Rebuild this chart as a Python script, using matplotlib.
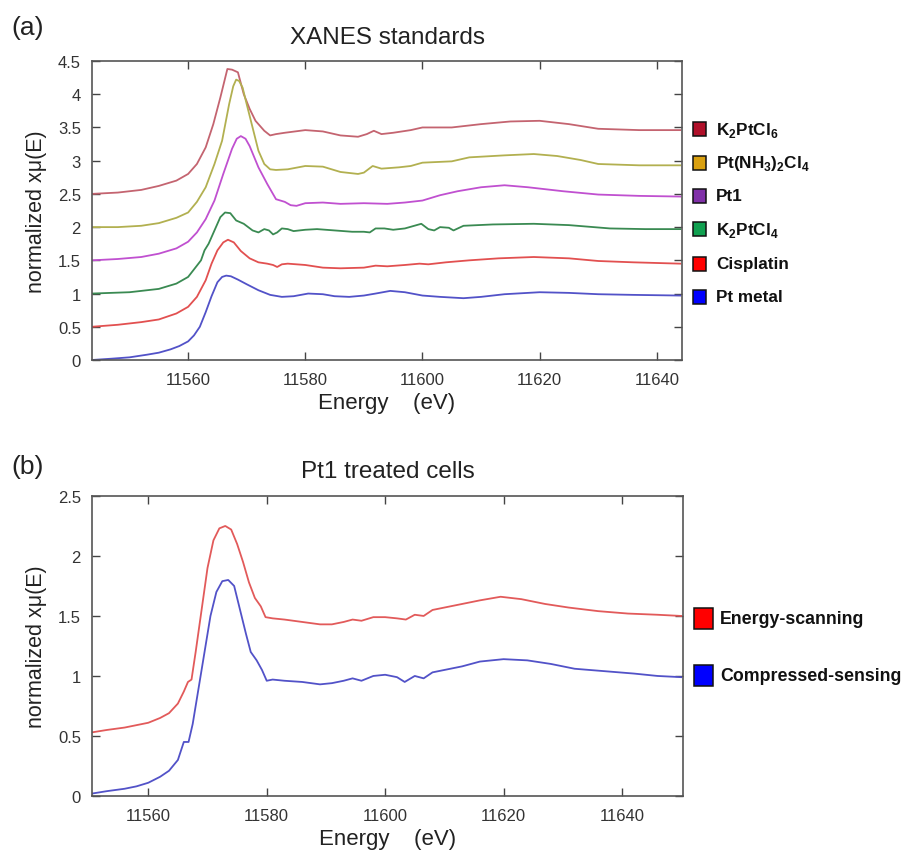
import matplotlib
matplotlib.use('Agg')
import matplotlib.pyplot as plt
from matplotlib.patches import Rectangle
from matplotlib.transforms import blended_transform_factory

plt.rcParams['font.family'] = ['Liberation Sans', 'DejaVu Sans']
plt.rcParams['mathtext.fontset'] = 'custom'
plt.rcParams['mathtext.bf'] = 'Liberation Sans:bold'
plt.rcParams['mathtext.rm'] = 'Liberation Sans'

# ---- panel (a): XANES standards ----
e_ptmetal = [11543.6, 11547, 11550, 11553, 11555, 11557, 11558.5, 11560, 11561, 11562, 11563, 11564, 11565,
             11565.8, 11566.5, 11567.3, 11568.5, 11570, 11572, 11574, 11576, 11578, 11580.5, 11583, 11585,
             11587.5, 11590, 11592, 11594.5, 11597, 11600, 11603, 11607, 11610, 11614, 11620, 11625, 11630,
             11636, 11644]
v_ptmetal = [0.0, 0.02, 0.04, 0.08, 0.11, 0.16, 0.21, 0.28, 0.37, 0.5, 0.72, 0.96, 1.17, 1.25, 1.27, 1.26,
             1.21, 1.14, 1.05, 0.98, 0.95, 0.96, 1.0, 0.99, 0.96, 0.95, 0.97, 1.0, 1.04, 1.02, 0.97, 0.95,
             0.93, 0.95, 0.99, 1.02, 1.01, 0.99, 0.98, 0.97]

e_cispt = [11543.6, 11548, 11552, 11555, 11558, 11560, 11561.5, 11563, 11564, 11565, 11566, 11566.8, 11567.8,
           11569, 11570.5, 11572, 11573.5, 11574.5, 11575.2, 11576, 11577, 11580, 11583, 11586, 11590, 11592,
           11594, 11597, 11599.5, 11601, 11604, 11608, 11613, 11619, 11625, 11630, 11636, 11644]
v_cispt = [0.5, 0.53, 0.57, 0.61, 0.7, 0.8, 0.95, 1.2, 1.45, 1.65, 1.77, 1.81, 1.77, 1.64, 1.53, 1.47, 1.45,
           1.43, 1.40, 1.44, 1.45, 1.43, 1.39, 1.38, 1.39, 1.42, 1.41, 1.43, 1.45, 1.44, 1.47, 1.5, 1.53, 1.55,
           1.53, 1.49, 1.47, 1.45]

e_k2ptcl4 = [11543.6, 11550, 11555, 11558, 11560, 11561.5, 11562.2, 11562.8, 11563.5, 11564.5, 11565.5, 11566.3,
             11567.2, 11568.2, 11569.5, 11571, 11572, 11573, 11573.8, 11574.5, 11575.2, 11576, 11577, 11578,
             11580, 11582, 11585, 11588, 11590, 11591, 11592, 11593.5, 11595, 11597, 11599, 11599.8, 11601,
             11602, 11603, 11604.5, 11605.3, 11607, 11612, 11619, 11625, 11632, 11638, 11644]
v_k2ptcl4 = [1.0, 1.02, 1.07, 1.15, 1.25, 1.42, 1.5, 1.65, 1.75, 1.95, 2.15, 2.22, 2.21, 2.1, 2.05, 1.95, 1.92,
             1.97, 1.95, 1.89, 1.92, 1.98, 1.97, 1.94, 1.96, 1.97, 1.95, 1.93, 1.93, 1.92, 1.98, 1.98, 1.96,
             1.98, 2.03, 2.05, 1.97, 1.95, 2.0, 1.99, 1.95, 2.02, 2.04, 2.05, 2.03, 1.98, 1.97, 1.97]

e_pt1 = [11543.6, 11548, 11552, 11555, 11558, 11560, 11561.5, 11563, 11564.5, 11566, 11567.5, 11568.3, 11569,
         11569.8, 11570.5, 11572, 11573.5, 11575, 11576.5, 11577.5, 11578.5, 11580, 11583, 11586, 11590, 11594,
         11597, 11600, 11603, 11606, 11610, 11614, 11618, 11624, 11630, 11637, 11644]
v_pt1 = [1.5, 1.52, 1.55, 1.6, 1.68, 1.78, 1.92, 2.12, 2.4, 2.8, 3.18, 3.33, 3.37, 3.33, 3.22, 2.9, 2.65, 2.42,
         2.38, 2.33, 2.32, 2.36, 2.37, 2.35, 2.36, 2.35, 2.37, 2.4, 2.48, 2.54, 2.6, 2.63, 2.6, 2.54, 2.49, 2.47,
         2.46]

e_ptnh3 = [11543.6, 11548, 11552, 11555, 11558, 11560, 11561.5, 11563, 11564.5, 11565.8, 11567, 11567.7, 11568.2,
           11568.7, 11569.3, 11570, 11571, 11572, 11573, 11574, 11575, 11577, 11580, 11583, 11586, 11589, 11590,
           11591.5, 11593, 11596, 11598, 11600, 11605, 11608, 11614, 11619, 11623, 11627, 11630, 11637, 11644]
v_ptnh3 = [2.0, 2.0, 2.02, 2.06, 2.14, 2.22, 2.38, 2.6, 2.95, 3.3, 3.85, 4.12, 4.22, 4.2, 4.1, 3.85, 3.5, 3.15,
           2.95, 2.87, 2.86, 2.87, 2.92, 2.91, 2.83, 2.8, 2.82, 2.92, 2.88, 2.9, 2.92, 2.97, 2.99, 3.05, 3.08,
           3.1, 3.07, 3.01, 2.95, 2.93, 2.93]

e_k2ptcl6 = [11543.6, 11548, 11552, 11555, 11558, 11560, 11561.5, 11563, 11564.3, 11565.5, 11566.7, 11567.5,
             11568.5, 11569.5, 11570.5, 11571.5, 11573, 11574, 11575, 11576.5, 11580, 11583, 11586, 11589,
             11590.5, 11591.7, 11593, 11595, 11598, 11600, 11605, 11610, 11615, 11620, 11625, 11630, 11637, 11644]
v_k2ptcl6 = [2.5, 2.52, 2.56, 2.62, 2.7, 2.8, 2.95, 3.2, 3.55, 3.95, 4.38, 4.37, 4.33, 4.0, 3.78, 3.6, 3.45, 3.38,
             3.4, 3.42, 3.46, 3.44, 3.38, 3.36, 3.4, 3.45, 3.4, 3.42, 3.46, 3.5, 3.5, 3.55, 3.59, 3.6, 3.55, 3.48,
             3.46, 3.46]

std_labels = [r'K$_\mathbf{2}$PtCl$_\mathbf{6}$', r'Pt(NH$_\mathbf{3}$)$_\mathbf{2}$Cl$_\mathbf{4}$', 'Pt1',
              r'K$_\mathbf{2}$PtCl$_\mathbf{4}$', 'Cisplatin', 'Pt metal']
std_line_colors = ['#c46470', '#b2b050', '#c050d0', '#3a8a52', '#e25050', '#5252c8']
std_key_colors = ['#b0102a', '#d9a010', '#8030a8', '#10a050', '#ff0000', '#0000ff']
std_key_y = [3.47, 2.97, 2.47, 1.97, 1.45, 0.95]

# ---- panel (b): Pt1 treated cells ----
e_escan = [11550.5, 11553, 11556, 11558, 11560, 11562, 11563.5, 11565, 11566, 11566.7, 11567.3, 11568, 11569,
           11570, 11571, 11572, 11573, 11574, 11575, 11576, 11577, 11578, 11579, 11579.8, 11581, 11583, 11586,
           11589, 11591, 11593, 11594.5, 11596, 11598, 11600, 11602, 11603.5, 11605, 11606.5, 11608, 11610,
           11613, 11616, 11619.5, 11623, 11627, 11631, 11636, 11641, 11646, 11650]
v_escan = [0.53, 0.55, 0.57, 0.59, 0.61, 0.65, 0.69, 0.77, 0.87, 0.95, 0.97, 1.2, 1.55, 1.9, 2.13, 2.23, 2.25,
           2.22, 2.1, 1.95, 1.78, 1.65, 1.58, 1.49, 1.48, 1.47, 1.45, 1.43, 1.43, 1.45, 1.47, 1.46, 1.49, 1.49,
           1.48, 1.47, 1.51, 1.5, 1.55, 1.57, 1.6, 1.63, 1.66, 1.64, 1.6, 1.57, 1.54, 1.52, 1.51, 1.5]

e_cs = [11550.5, 11553, 11556, 11558, 11560, 11562, 11563.5, 11565, 11566, 11566.8, 11567.5, 11568.5, 11569.5,
        11570.5, 11571.5, 11572.5, 11573.5, 11574.5, 11575.5, 11576.5, 11577.3, 11578.3, 11579.2, 11580, 11581,
        11583, 11586, 11589, 11591, 11593, 11594.5, 11596, 11598, 11600, 11602, 11603.3, 11605, 11606.5, 11608,
        11610, 11613, 11616, 11620, 11624, 11628, 11632, 11637, 11642, 11646, 11650]
v_cs = [0.02, 0.04, 0.06, 0.08, 0.11, 0.16, 0.21, 0.3, 0.45, 0.45, 0.6, 0.9, 1.2, 1.5, 1.7, 1.79, 1.8, 1.75,
        1.55, 1.35, 1.2, 1.13, 1.05, 0.96, 0.97, 0.96, 0.95, 0.93, 0.94, 0.96, 0.98, 0.96, 1.0, 1.01, 0.99, 0.95,
        1.0, 0.98, 1.03, 1.05, 1.08, 1.12, 1.14, 1.13, 1.1, 1.06, 1.04, 1.02, 1.0, 0.99]

cell_labels = ['Energy-scanning', 'Compressed-sensing']
cell_line_colors = ['#e25a5a', '#5252c8']
cell_key_colors = ['#ff0000', '#0000ff']
cell_key_y = [1.475, 1.0]


def style_axes(ax, xticks, yticks):
    ax.set_xticks(xticks)
    ax.set_yticks(yticks)
    ax.set_yticklabels(['%g' % t for t in yticks])
    ax.tick_params(direction='in', length=6, width=1, top=True, right=True,
                   labelsize=12, colors='#444444', labelcolor='#333333')
    ax.tick_params(axis='x', pad=9)
    ax.tick_params(axis='y', pad=8)
    for sp in ax.spines.values():
        sp.set_color('#555555')
        sp.set_linewidth(1.2)
    ax.set_xlabel('Energy    (eV)', fontsize=16, color='#222222', labelpad=3)
    ax.set_ylabel('normalized xμ(E)', fontsize=15.5, color='#222222', labelpad=8)


def draw_keys(ax, labels, colors, ys, fsize, sq_w, sq_h, gap):
    # coloured squares + bold labels to the right of the axes, y given in data units
    trans = blended_transform_factory(ax.transAxes, ax.transData)
    x0 = 1.0186
    for lab, c, y in zip(labels, colors, ys):
        ax.text(x0 + (sq_w + gap) / ax.bbox.width, y, lab, transform=trans, fontsize=fsize,
                fontweight='bold', va='center', ha='left', color='#111111', clip_on=False)
        y_disp = trans.transform((0, y))[1]
        y0 = ax.transAxes.inverted().transform((0, y_disp - sq_h / 2))[1]
        ax.add_patch(Rectangle((x0, y0), sq_w / ax.bbox.width, sq_h / ax.bbox.height,
                               facecolor=c, edgecolor='#111111', lw=1.1, clip_on=False,
                               transform=ax.transAxes))


fig = plt.figure(figsize=(9.13, 8.53), dpi=100)
ax1 = fig.add_axes([0.1008, 0.5768, 0.6462, 0.3505])
ax2 = fig.add_axes([0.1008, 0.0657, 0.6473, 0.3517])

std_e = [e_k2ptcl6, e_ptnh3, e_pt1, e_k2ptcl4, e_cispt, e_ptmetal]
std_v = [v_k2ptcl6, v_ptnh3, v_pt1, v_k2ptcl4, v_cispt, v_ptmetal]
for e, v, c in zip(std_e, std_v, std_line_colors):
    ax1.plot(e, v, color=c, lw=1.3)
ax1.set_xlim(11543.6, 11644.3)
ax1.set_ylim(0, 4.5)
style_axes(ax1, [11560, 11580, 11600, 11620, 11640], [0, 0.5, 1, 1.5, 2, 2.5, 3, 3.5, 4, 4.5])
ax1.set_title('XANES standards', fontsize=17.5, color='#222222', pad=13)

for e, v, c in zip([e_escan, e_cs], [v_escan, v_cs], cell_line_colors):
    ax2.plot(e, v, color=c, lw=1.3)
ax2.set_xlim(11550.5, 11650.3)
ax2.set_ylim(0, 2.5)
style_axes(ax2, [11560, 11580, 11600, 11620, 11640], [0, 0.5, 1, 1.5, 2, 2.5])
ax2.set_title('Pt1 treated cells', fontsize=17.5, color='#222222', pad=14)

fig.canvas.draw()
draw_keys(ax1, std_labels, std_key_colors, std_key_y, 12.3, 13, 14, 10)
draw_keys(ax2, cell_labels, cell_key_colors, cell_key_y, 12.8, 19, 21, 7)

fig.text(0.013, 0.967, '(a)', fontsize=19, color='#222222', va='center')
fig.text(0.013, 0.452, '(b)', fontsize=19, color='#222222', va='center')

fig.savefig('out.png', dpi=100)
